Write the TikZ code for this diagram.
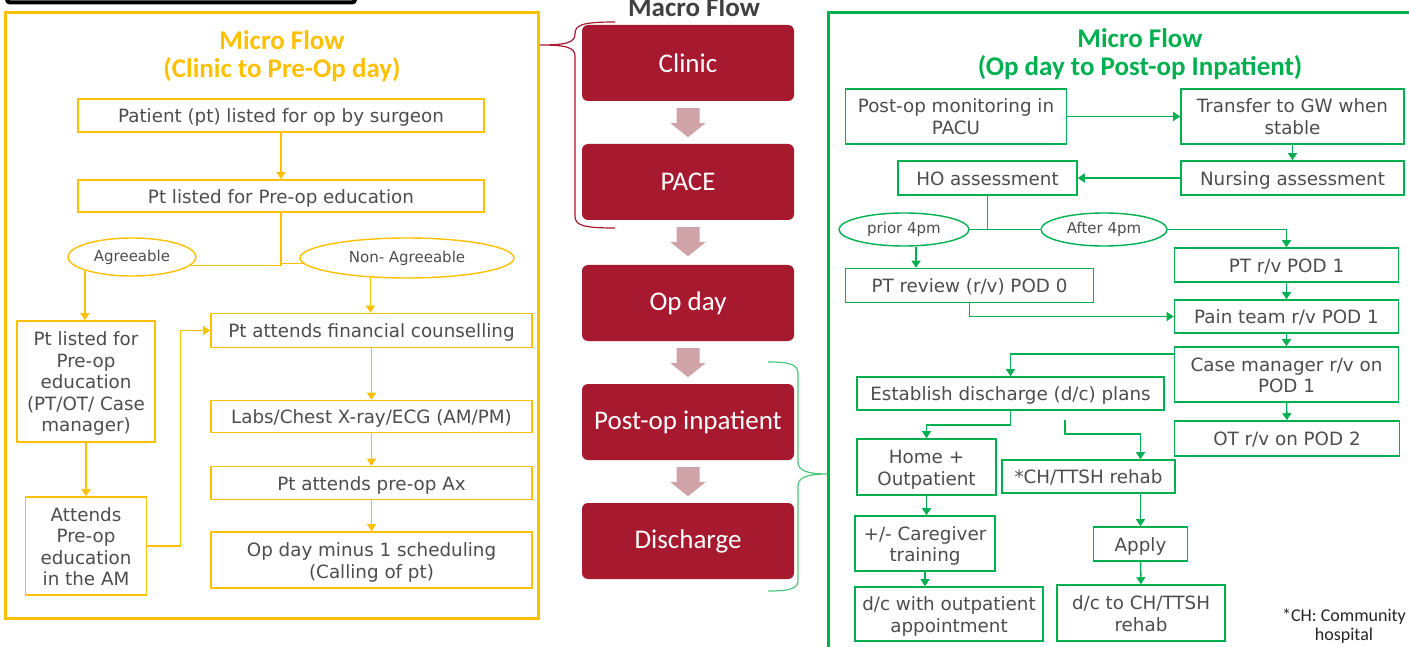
\documentclass[tikz,border=0pt]{standalone}
\usepackage{fontspec}
\setmainfont{DejaVu Sans}
\newfontfamily\calib{Carlito}
\usetikzlibrary{arrows.meta,shapes.geometric,calc}
\definecolor{myyellow}{HTML}{FFC000}
\definecolor{mygreen}{HTML}{00B050}
\definecolor{myred}{HTML}{A6192E}
\definecolor{pinkarr}{HTML}{CFA3A8}
\definecolor{txt}{HTML}{4D4D4D}
\definecolor{ltgreen}{HTML}{4CC87A}
\definecolor{mtitle}{HTML}{404040}
\newcommand\TS{\rule{0pt}{19pt}}
\newcommand\BS{\rule[-4.5pt]{0pt}{0pt}}
\tikzset{
  sz/.style 2 args={minimum width=#1, minimum height=#2},
  bodyf/.style={font=\fontsize{18.3}{21.5}\selectfont, text=txt, align=center, inner sep=0pt},
  ybox/.style={bodyf, draw=myyellow, line width=1.6pt},
  gbox/.style={bodyf, draw=mygreen, line width=1.6pt},
  yell/.style={ellipse, draw=myyellow, line width=1.4pt, inner sep=0pt, text=txt, font=\fontsize{15}{18}\selectfont},
  gell/.style={ellipse, draw=mygreen, line width=1.4pt, inner sep=0pt, text=txt, font=\fontsize{15}{18}\selectfont},
  yline/.style={draw=myyellow, line width=1.5pt},
  gline/.style={draw=mygreen, line width=1.5pt},
  yarr/.style={yline, -{Triangle[length=7pt,width=9pt]}},
  garr/.style={gline, -{Triangle[length=7pt,width=9pt]}},
  redbox/.style={fill=myred, rounded corners=6pt, minimum width=212, minimum height=76, inner sep=0pt, text=white, font=\calib\fontsize{27}{30}\selectfont},
  title/.style={font=\calib\bfseries\fontsize{27}{28}\selectfont, align=center, inner sep=0pt},
  blockarr/.style={fill=pinkarr},
}
\begin{document}
\begin{tikzpicture}[x=1pt,y=-1pt]
\useasboundingbox (0,0) rectangle (1409,647);
\clip (0,0) rectangle (1409,647);
\fill[white] (0,0) rectangle (1409,647);

% black bar at top
\draw[black, line width=4pt, rounded corners=3pt] (7,-20) rectangle (355,2.5);

% ---------- left panel ----------
\draw[myyellow, line width=3pt] (5,13) rectangle (538.5,618);
\node[title, text=myyellow] (yt) at (282,56.5) {Micro Flow\\(Clinic to Pre-Op day)};

\node[ybox, sz={406}{33}] (a) at (281,115.5) {\TS Patient (pt) listed for op by surgeon\BS};
\node[ybox, sz={406}{32}] (b) at (281,196) {\TS Pt listed for Pre-op education\BS};
\node[yell, sz={128}{38}] (ag) at (132,257) {Agreeable};
\node[yell, sz={214}{40}] (nag) at (407,258) {Non- Agreeable};
\node[ybox, sz={138}{121}] (c) at (86,381.5) {\TS Pt listed for\\Pre-op\\education\\(PT/OT/ Case\\manager)\BS};
\node[ybox, sz={121}{98}] (d) at (86,546) {\TS Attends\\Pre-op\\education\\in the AM\BS};
\node[ybox, sz={321}{34}] (e) at (371.5,330.5) {\TS Pt attends financial counselling\BS};
\node[ybox, sz={321}{32}] (f) at (371.5,416.5) {\TS Labs/Chest X-ray/ECG (AM/PM)\BS};
\node[ybox, sz={321}{33}] (g) at (371.5,483) {\TS Pt attends pre-op Ax\BS};
\node[ybox, sz={321}{56}] (h) at (371.5,560) {\TS Op day minus 1 scheduling\\(Calling of pt)\BS};

\draw[yarr] (a.south) -- (b.north);
\draw[yline] (b.south) |- (ag.-8);
\draw[yline] (b.south) |- (nag.183);
\draw[yarr] (ag.196) -- (ag.196 |- c.north);
\draw[yarr] (nag.208) -- (nag.208 |- e.north);
\draw[yarr] (c.south) -- (d.north);
\draw[yarr] (d.east) -- ++(33,0) |- (e.west);
\draw[yarr] (e.south) -- (f.north);
\draw[yarr] (f.south) -- (g.north);
\draw[yarr] (g.south) -- (h.north);

% ---------- macro flow ----------
\node[font=\calib\bfseries\fontsize{27}{30}\selectfont, text=mtitle, anchor=base, inner sep=0pt] (mt) at (694,17) {Macro Flow};
\node[redbox] (m1) at (688,63) {Clinic};
\node[redbox] (m2) at (688,182) {PACE};
\node[redbox] (m3) at (688,303) {Op day};
\node[redbox] (m4) at (688,422) {Post-op inpatient};
\node[redbox] (m5) at (688,541) {Discharge};
\foreach \p/\q in {m1/m2,m2/m3,m3/m4,m4/m5}{
  \fill[blockarr] (\p.south) ++(-11.5,7) -- ++(23,0) -- ++(0,15) -- ++(6,0) -- ++(-17.5,14) -- ++(-17.5,-14) -- ++(6,0) -- cycle;
}
% braces
\draw[myred, line width=1.2pt] (615,22) .. controls (582,22) and (575,25) .. (575,34)
  .. controls (575,43) and (565,45) .. (540,45)
  .. controls (565,45) and (575,47) .. (575,56) -- (575,216)
  .. controls (575,225) and (582,228) .. (615,228);
\draw[ltgreen, line width=1.2pt] (768,362) .. controls (792,362) and (798,365) .. (798,374) -- (798,462)
  .. controls (798,471) and (808,474) .. (828,474)
  .. controls (808,474) and (798,477) .. (798,486) -- (798,580)
  .. controls (798,588) and (792,591) .. (768,591);

% ---------- right panel ----------
\draw[mygreen, line width=3pt] (828.5,13) rectangle (1430,680);
\node[title, text=mygreen] (gt) at (1140,54) {Micro Flow\\(Op day to Post-op Inpatient)};

\node[gbox, sz={221}{55}] (r1) at (956,116.5) {\TS Post-op monitoring in\\PACU\BS};
\node[gbox, sz={223}{55}] (r2) at (1292.5,116.5) {\TS Transfer to GW when\\stable\BS};
\node[gbox, sz={223}{34}] (r3) at (1292.5,178) {\TS Nursing assessment\BS};
\node[gbox, sz={179}{34}] (r4) at (987.5,178) {\TS HO assessment\BS};
\node[gell, sz={130}{33}] (p4) at (904,229.5) {prior 4pm};
\node[gell, sz={126}{33}] (a4) at (1104,229.5) {After 4pm};
\node[gbox, sz={248}{34}] (r5) at (969.5,285.5) {\TS PT review (r/v) POD 0\BS};
\node[gbox, sz={224}{34}] (r6) at (1286.5,265) {\TS PT r/v POD 1\BS};
\node[gbox, sz={224}{33}] (r7) at (1286.5,316.5) {\TS Pain team r/v POD 1\BS};
\node[gbox, sz={224}{55}] (r8) at (1286.5,374.5) {\TS Case manager r/v on\\POD 1\BS};
\node[gbox, sz={225}{35}] (r9) at (1287,438.5) {\TS OT r/v on POD 2\BS};
\node[gbox, sz={307}{33}] (r10) at (1010.5,393.5) {\TS Establish discharge (d/c) plans\BS};
\node[gbox, sz={139}{56}] (r11) at (926.5,467) {\TS Home +\\Outpatient\BS};
\node[gbox, sz={173}{33}] (r12) at (1088.5,476.5) {\TS *CH/TTSH rehab\BS};
\node[gbox, sz={140}{55}] (r13) at (925,543.5) {\TS +/- Caregiver\\training\BS};
\node[gbox, sz={188}{54}] (r14) at (949,614) {\TS d/c with outpatient\\appointment\BS};
\node[gbox, sz={94}{34}] (r15) at (1140.5,544) {\TS Apply\BS};
\node[gbox, sz={168}{56}] (r16) at (1141,613) {\TS d/c to CH/TTSH\\rehab\BS};
\node[font=\calib\fontsize{18}{19.5}\selectfont, text=black!85, align=center, inner sep=0pt] (note) at (1344,626) {*CH: Community\\hospital};

\coordinate (j2) at (987.5,229.5);
\coordinate (s2) at (1065,420);
\draw[garr] (r1.east) -- (r2.west);
\draw[garr] (r2.south) -- (r3.north);
\draw[garr] (r3.west) -- (r4.east);
\draw[gline] (r4.south) -- (j2);
\draw[gline] (p4.east) -- (a4.west);
\draw[garr] (a4.east) -| (r6.north);
\draw[garr] ([xshift=12pt]p4.south) -- ([xshift=12pt]p4.south |- r5.north);
\draw[garr] (r5.south) |- (r7.west);
\draw[garr] (r6.south) -- (r7.north);
\draw[garr] (r7.south) -- (r8.north);
\draw[garr] (r8.south) -- (r9.north);
\draw[garr] ([yshift=-8pt]r8.north west) -| (r10.north);
\draw[garr] (r10.south) -- ++(0,14) -| (r11.north);
\draw[garr] (s2) -- ++(0,14) -| (r15.north |- r12.north);
\draw[garr] (r11.south) -- (r11.south |- r13.north);
\draw[garr] (r13.south) -- (r13.south |- r14.north);
\draw[garr] (r15.north |- r12.south) -- (r15.north);
\draw[garr] (r15.south) -- (r16.north);
\end{tikzpicture}
\end{document}
